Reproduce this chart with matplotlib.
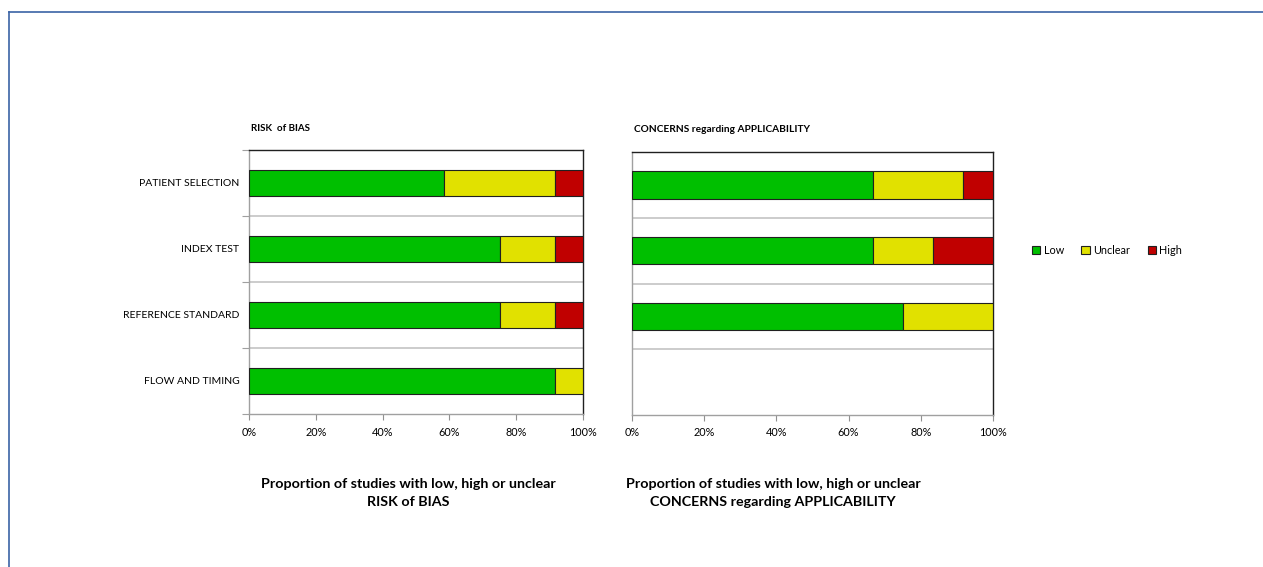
import numpy as np
import matplotlib
matplotlib.use("Agg")
import matplotlib.pyplot as plt
from matplotlib.patches import Patch
from matplotlib.lines import Line2D

plt.rcParams['font.family'] = ['Lato', 'DejaVu Sans']

domains = ["PATIENT SELECTION", "INDEX TEST", "REFERENCE STANDARD", "FLOW AND TIMING"]
levels = ["Low", "Unclear", "High"]
colors = ["#00bf00", "#e1e100", "#c00000"]

# proportions (%)
bias_low = [58.3, 75.0, 75.0, 91.7]
bias_unclear = [33.3, 16.7, 16.7, 8.3]
bias_high = [8.3, 8.3, 8.3, 0.0]

appl_low = [66.7, 66.7, 75.0]
appl_unclear = [25.0, 16.7, 25.0]
appl_high = [8.3, 16.7, 0.0]

fig = plt.figure(figsize=(12.63, 5.67), dpi=100)

ax1 = fig.add_axes([249 / 1263, 1 - 414 / 567, 334 / 1263, 264 / 567])
ax2 = fig.add_axes([632 / 1263, 1 - 415 / 567, 361 / 1263, 263 / 567])


def draw(ax, series, height):
    n = len(series[0])
    y = np.arange(n)
    left = np.zeros(n)
    for vals, c in zip(series, colors):
        vals = np.array(vals)
        ax.barh(y, vals, left=left, height=height, color=c,
                edgecolor="#202020", linewidth=0.8, zorder=3)
        left += vals
    ax.set_xlim(0, 100)
    ax.set_ylim(3.5, -0.5)
    for b in [0.5, 1.5, 2.5]:
        ax.axhline(b, color="#c8c8c8", linewidth=1.3, zorder=1)
    ax.set_xticks(np.arange(0, 101, 20))
    ax.set_xticklabels([f"{v}%" for v in range(0, 101, 20)], fontsize=7.8)
    ax.tick_params(axis="x", length=4, color="#909090", pad=5)
    ax.spines["top"].set_color("#202020")
    ax.spines["right"].set_color("#202020")
    ax.spines["left"].set_color("#a0a0a0")
    ax.spines["bottom"].set_color("#a0a0a0")
    for s in ax.spines.values():
        s.set_linewidth(1.0)


draw(ax1, [bias_low, bias_unclear, bias_high], 0.4)
draw(ax2, [appl_low, appl_unclear, appl_high], 0.42)

ax1.set_yticks([-0.5, 0.5, 1.5, 2.5, 3.5])
ax1.set_yticklabels([])
ax1.tick_params(axis="y", which="major", length=5, color="#a0a0a0")
ax1.set_yticks(np.arange(4), minor=True)
ax1.set_yticklabels(domains, minor=True, fontsize=7.5)
ax1.tick_params(axis="y", which="minor", length=0, pad=7)

ax2.set_yticks([])

ax1.text(0.005, 1.08, "RISK  of BIAS", transform=ax1.transAxes, fontsize=7,
         fontweight="bold", va="center", ha="left")
ax2.text(0.005, 1.087, "CONCERNS regarding APPLICABILITY", transform=ax2.transAxes,
         fontsize=7.3, fontweight="bold", va="center", ha="left")

fig.text(408 / 1263, 1 - 493 / 567,
         "Proportion of studies with low, high or unclear\nRISK of BIAS",
         ha="center", va="center", fontsize=10.3, fontweight="bold", linespacing=1.6)
fig.text(773 / 1263, 1 - 493 / 567,
         "Proportion of studies with low, high or unclear\nCONCERNS regarding APPLICABILITY",
         ha="center", va="center", fontsize=10.3, fontweight="bold", linespacing=1.6)

handles = [Patch(facecolor=c, edgecolor="#202020", linewidth=0.8) for c in colors]
fig.legend(handles, levels, loc="center left", bbox_to_anchor=(1022 / 1263, 1 - 250 / 567),
           ncol=3, frameon=False, fontsize=7.8, handlelength=0.8, handleheight=0.8,
           handletextpad=0.3, columnspacing=1.6)

# blue page frame
fig.add_artist(Line2D([9 / 1263, 1], [1 - 12 / 567, 1 - 12 / 567], color="#3b64a6",
                      linewidth=1.2, transform=fig.transFigure))
fig.add_artist(Line2D([9 / 1263, 9 / 1263], [0, 1 - 12 / 567], color="#3b64a6",
                      linewidth=1.2, transform=fig.transFigure))

fig.savefig("out.png", dpi=100)
